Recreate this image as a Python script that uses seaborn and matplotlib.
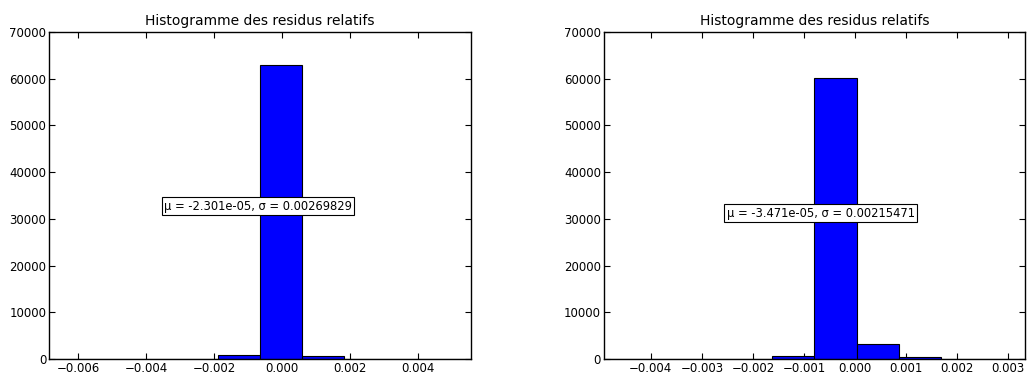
import numpy as np
import pandas as pd
import matplotlib
matplotlib.use("Agg")
import matplotlib.pyplot as plt
import seaborn as sns

# histogram data (10 bins each)
left_range = (-0.00685, 0.00556)
left_counts = [2, 3, 10, 90, 800, 62900, 650, 80, 8, 2]
left_mu, left_sigma = -2.301e-05, 0.00269829

right_range = (-0.00492, 0.00333)
right_counts = [2, 3, 15, 90, 650, 60100, 3200, 400, 30, 5]
right_mu, right_sigma = -3.471e-05, 0.00215471

title = "Histogramme des residus relatifs"

sns.set_style("ticks")
plt.rcParams['font.family'] = ['DejaVu Sans']
plt.rcParams.update({"text.color": "black", "xtick.color": "black",
                     "ytick.color": "black", "axes.labelcolor": "black"})

fig = plt.figure(figsize=(10.27, 3.74), dpi=100)
ax1 = fig.add_axes([0.0477, 0.0401, 0.4109, 0.8743])
ax2 = fig.add_axes([0.588, 0.0401, 0.410, 0.8743])


def draw(ax, rng, counts, mu, sigma, xticks, text_xy):
    edges = list(np.linspace(rng[0], rng[1], len(counts) + 1))
    centers = [(a + b) / 2 for a, b in zip(edges[:-1], edges[1:])]
    df = pd.DataFrame({"x": centers, "n": counts})
    sns.histplot(data=df, x="x", weights="n", bins=edges, ax=ax,
                 color="#0000ff", alpha=1, edgecolor="black", linewidth=0.8)
    ax.set_xlim(rng)
    ax.set_ylim(0, 70000)
    ax.set_yticks(range(0, 70001, 10000))
    ax.set_xticks(xticks)
    ax.set_xticklabels([f"{t:.3f}".replace("-", "\u2212") for t in xticks])
    ax.set_xlabel("")
    ax.set_ylabel("")
    ax.set_title(title, fontsize=10, pad=5)
    ax.tick_params(direction="in", top=True, right=True, labelsize=8.5,
                   length=4, width=0.8, pad=2)
    for s in ax.spines.values():
        s.set_linewidth(1.0)
        s.set_color("black")
    ax.text(text_xy[0], text_xy[1], f"\u03bc = {mu:.4g}, \u03c3 = {sigma:.8f}",
            transform=ax.transData, ha="center", va="center", fontsize=8.3,
            bbox=dict(boxstyle="square,pad=0.2", facecolor="white", edgecolor="black", linewidth=0.8))


draw(ax1, left_range, left_counts, left_mu, left_sigma,
     [-0.006, -0.004, -0.002, 0.0, 0.002, 0.004], (-0.0007, 32750))
draw(ax2, right_range, right_counts, right_mu, right_sigma,
     [-0.004, -0.003, -0.002, -0.001, 0.0, 0.001, 0.002, 0.003], (-0.00067, 31250))

fig.savefig("out.png", dpi=100)
